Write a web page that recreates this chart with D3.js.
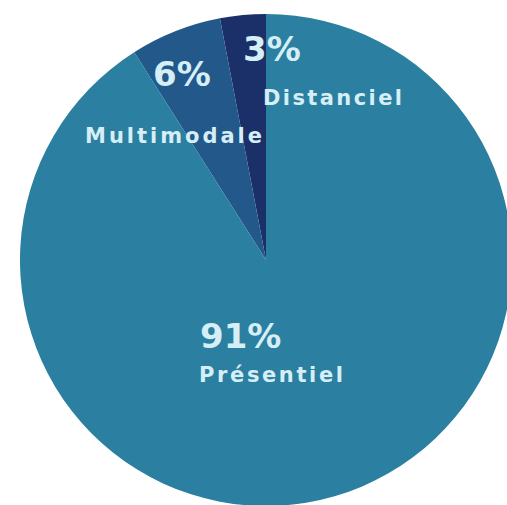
<!DOCTYPE html>
<html>
<head>
<meta charset="utf-8">
<script src="https://cdn.jsdelivr.net/npm/d3@7"></script>
<style>
  body { margin: 0; background: #fff; }
  text { font-family: "DejaVu Sans", sans-serif; font-weight: bold; fill: #d6eef6; }
</style>
</head>
<body>
<div id="pie"></div>
<script>
var svgWidth = 507;
var svgHeight = 505;

var categories = ["Distanciel", "Multimodale", "Présentiel"];
var shares = [3, 6, 91];
var pctLabels = ["3%", "6%", "91%"];
var colors = ["#1b2f69", "#22598a", "#2b7fa0"];

var cx = 266, cy = 260, radius = 246;

var svg = d3.select("#pie")
    .append("svg")
    .attr("width", svgWidth)
    .attr("height", svgHeight);

var chartGroup = svg.append("g")
    .attr("transform", `translate(${cx}, ${cy})`);

// counter-clockwise from 12 o'clock
var pie = d3.pie()
    .sort(null)
    .startAngle(0)
    .endAngle(-2 * Math.PI)
    .value(d => d);

var arc = d3.arc()
    .innerRadius(0)
    .outerRadius(radius);

var slices = pie(shares);

chartGroup.selectAll("path")
    .data(slices)
    .enter()
    .append("path")
    .attr("d", arc)
    .attr("fill", (d, i) => colors[i]);

// label placement (offsets from centre)
var pctPos = [[-23, -199], [-113, -174], [-66, 88]];
var pctSize = [34, 34, 34];
var namePos = [[-3, -155], [-181, -117], [-67, 122]];
var nameLen = [139, 177, 144];

chartGroup.selectAll("text.pct")
    .data(pctLabels)
    .enter()
    .append("text")
    .attr("class", "pct")
    .attr("x", (d, i) => pctPos[i][0])
    .attr("y", (d, i) => pctPos[i][1])
    .style("font-size", (d, i) => pctSize[i] + "px")
    .text(d => d);

chartGroup.selectAll("text.name")
    .data(categories)
    .enter()
    .append("text")
    .attr("class", "name")
    .attr("x", (d, i) => namePos[i][0])
    .attr("y", (d, i) => namePos[i][1])
    .attr("textLength", (d, i) => nameLen[i])
    .attr("lengthAdjust", "spacing")
    .style("font-size", "21px")
    .text(d => d);
</script>
</body>
</html>
